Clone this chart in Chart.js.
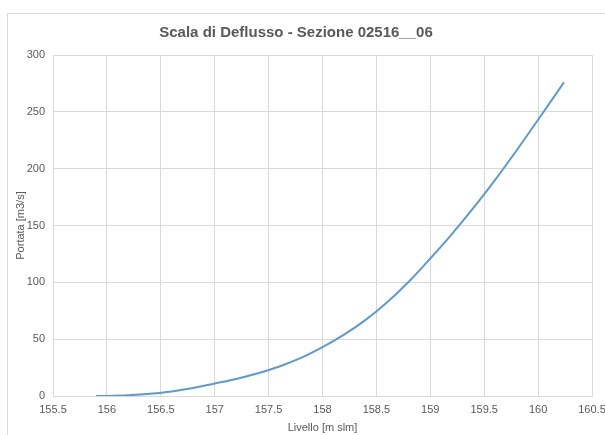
<!DOCTYPE html>
<html>
<head>
<meta charset="utf-8">
<script src="https://cdn.jsdelivr.net/npm/chart.js@4"></script>
<style>
  html, body { margin: 0; padding: 0; background: #fff; overflow: hidden; }
  #frame { position: absolute; left: 7px; top: 13px; width: 640px; height: 460px; border: 1px solid #d9d9d9; box-sizing: border-box; }
  #wrap { position: absolute; left: 0; top: 0; width: 605px; height: 435px; }
</style>
</head>
<body>
<div id="frame"></div>
<div id="wrap"><canvas id="myChart" width="605" height="435"></canvas></div>
<script>
// Scala di deflusso: livello [m slm] -> portata [m3/s]
const livelli = [155.9, 156.0, 156.2, 156.4, 156.6, 156.8, 157.0, 157.2, 157.4, 157.6, 157.8,
                 158.0, 158.2, 158.4, 158.6, 158.8, 159.0, 159.2, 159.4, 159.6, 159.8, 160.0, 160.24];
const portate = [0, 0.1, 0.7, 2, 4, 7, 11, 15, 20, 26, 33.5,
                 43, 54, 67, 82.5, 100.5, 121, 142.5, 165.5, 190, 216, 243, 276];

const fontFam = "'Liberation Sans Narrow', 'Arial Narrow', 'Liberation Sans', sans-serif";
const grigio = '#595959';

const punti = livelli.map((x, i) => ({ x: x, y: portate[i] }));

const ctx = document.getElementById('myChart').getContext('2d');
new Chart(ctx, {
    type: 'line',
    data: {
        datasets: [{
            label: 'Portata',
            data: punti,
            borderColor: '#5b9bd5',
            borderWidth: 2,
            pointRadius: 0,
            cubicInterpolationMode: 'monotone',
            fill: false
        }]
    },
    options: {
        responsive: false,
        animation: false,
        layout: { padding: { left: 0, right: 13, top: 0, bottom: 0 } },
        plugins: {
            legend: { display: false },
            tooltip: { enabled: false },
            title: {
                display: true,
                text: 'Scala di Deflusso - Sezione 02516__06',
                color: grigio,
                font: { family: fontFam, size: 15, weight: 'bold' },
                padding: { top: 24, bottom: 13 }
            }
        },
        scales: {
            x: {
                type: 'linear',
                min: 155.5,
                max: 160.5,
                afterFit: s => { s.height = 39; s.paddingRight = 0; s.paddingLeft = 0; },
                ticks: {
                    stepSize: 0.5,
                    color: grigio,
                    padding: 7,
                    font: { family: fontFam, size: 11 },
                    callback: v => String(v)
                },
                grid: { color: '#d9d9d9', drawTicks: false },
                border: { color: '#d9d9d9' },
                title: {
                    display: true,
                    text: 'Livello [m slm]',
                    color: grigio,
                    font: { family: fontFam, size: 11 },
                    padding: { top: 0, bottom: 0 }
                }
            },
            y: {
                min: 0,
                max: 300,
                afterFit: s => { s.width = 53; },
                ticks: {
                    stepSize: 50,
                    color: grigio,
                    padding: 8,
                    font: { family: fontFam, size: 11 }
                },
                grid: { color: '#d9d9d9', drawTicks: false },
                border: { color: '#d9d9d9' },
                title: {
                    display: true,
                    text: 'Portata [m3/s]',
                    color: grigio,
                    font: { family: fontFam, size: 11 },
                    padding: { top: 14, bottom: 0 }
                }
            }
        }
    }
});
</script>
</body>
</html>
